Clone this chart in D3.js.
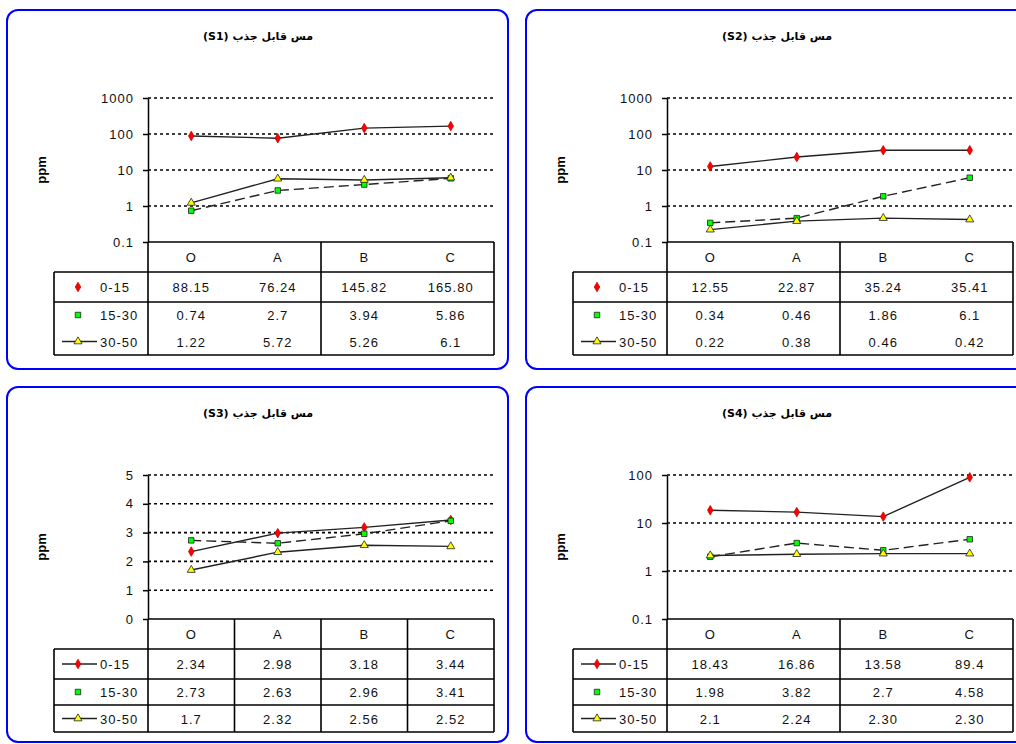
<!DOCTYPE html>
<html>
<head>
    <script src="https://cdn.jsdelivr.net/npm/d3@7/dist/d3.min.js"></script>
    <style>
        body {
            margin: 0;
            background-color: white;
        }

        svg text {
            font-family: "Liberation Sans", Arial, sans-serif;
        }

        .cell {
            font-size: 13px;
            letter-spacing: 1px;
            fill: #111;
        }

        .title {
            font-family: "DejaVu Sans", sans-serif !important;
            font-size: 11px;
            font-weight: bold;
        }

        .unit {
            font-size: 13px;
            font-weight: bold;
        }
    </style>
</head>
<body>
    <div id="chart"></div>
    <script>
        // data
        const categories = ['O', 'A', 'B', 'C']
        const depths = ['0-15', '15-30', '30-50']
        const titles = ['مس قابل جذب (S1)', 'مس قابل جذب (S2)', 'مس قابل جذب (S3)', 'مس قابل جذب (S4)']

        // table text, one row per depth
        const s1 = [['88.15', '76.24', '145.82', '165.80'], ['0.74', '2.7', '3.94', '5.86'], ['1.22', '5.72', '5.26', '6.1']]
        const s2 = [['12.55', '22.87', '35.24', '35.41'], ['0.34', '0.46', '1.86', '6.1'], ['0.22', '0.38', '0.46', '0.42']]
        const s3 = [['2.34', '2.98', '3.18', '3.44'], ['2.73', '2.63', '2.96', '3.41'], ['1.7', '2.32', '2.56', '2.52']]
        const s4 = [['18.43', '16.86', '13.58', '89.4'], ['1.98', '3.82', '2.7', '4.58'], ['2.1', '2.24', '2.30', '2.30']]

        const ticksS1 = [0.1, 1, 10, 100, 1000]
        const ticksS2 = [0.1, 1, 10, 100, 1000]
        const ticksS3 = [0, 1, 2, 3, 4, 5]
        const ticksS4 = [0.1, 1, 10, 100]

        const W = 1016, H = 744
        const colors = ['#ff0000', '#00ff00', '#ffff00']
        const symbols = [d3.symbolDiamond, d3.symbolSquare, d3.symbolTriangle]
        const symSize = [26, 30, 28]
        const dashes = [null, '10,5', null]

        // panel layout (relative to panel corner)
        const axisX = 141, plotR = 487, plotT = 88, plotB = 232
        const tableL = 47
        const rowEdges = [232, 262, 292, 318, 345]

        const panels = [
            { x: 7, y: 10, h: 359, data: s1, ticks: ticksS1, log: true, cols: [0, 2, 4], rows: [1], keyLine: [false, false, true] },
            { x: 526, y: 10, h: 359, data: s2, ticks: ticksS2, log: true, cols: [0, 2, 4], rows: [1], keyLine: [false, false, true] },
            { x: 7, y: 387, h: 355, data: s3, ticks: ticksS3, log: false, cols: [0, 1, 2, 3, 4], rows: [1, 2], keyLine: [true, false, true] },
            { x: 526, y: 387, h: 355, data: s4, ticks: ticksS4, log: true, cols: [0, 2, 4], rows: [1, 2], keyLine: [true, false, true] }
        ]

        const svg = d3.select('#chart').append('svg')
            .attr('width', W)
            .attr('height', H)

        panels.forEach((p, i) => {
            const g = svg.append('g').attr('transform', `translate(${p.x},${p.y})`)

            g.append('rect')
                .attr('x', 0).attr('y', 0)
                .attr('width', 501).attr('height', p.h)
                .attr('rx', 11).attr('ry', 11)
                .attr('fill', 'white')
                .attr('stroke', '#0000ff')
                .attr('stroke-width', 2)

            g.append('text')
                .attr('class', 'title')
                .attr('x', 251).attr('y', 30)
                .attr('text-anchor', 'middle')
                .attr('direction', 'rtl')
                .text(titles[i])

            g.append('text')
                .attr('class', 'unit')
                .attr('transform', `translate(39,${(plotT + plotB) / 2}) rotate(-90)`)
                .attr('text-anchor', 'middle')
                .text('ppm')

            const x = d3.scaleBand().domain(categories).range([axisX, plotR])
            const cx = c => x(c) + x.bandwidth() / 2
            const ext = d3.extent(p.ticks)
            const y = (p.log ? d3.scaleLog() : d3.scaleLinear()).domain(ext).range([plotB, plotT])

            // grid
            g.append('g').selectAll('line')
                .data(p.ticks.filter(t => t !== ext[0]))
                .join('line')
                .attr('x1', axisX).attr('x2', plotR)
                .attr('y1', d => y(d)).attr('y2', d => y(d))
                .attr('stroke', '#000')
                .attr('stroke-width', 1.6)
                .attr('stroke-dasharray', '3,3')

            // y axis
            const yAxis = g.append('g')
                .attr('transform', `translate(${axisX},0)`)
                .call(d3.axisLeft(y).tickValues(p.ticks).tickFormat(d => String(d)).tickSize(5).tickSizeOuter(0).tickPadding(9))
            yAxis.select('.domain').attr('stroke-width', 1.5)
            yAxis.selectAll('.tick line').attr('stroke-width', 1.5)
            yAxis.selectAll('.tick text')
                .attr('class', 'cell')
                .style('font-size', '13px')
                .style('font-family', '"Liberation Sans", Arial, sans-serif')

            // lines and markers
            const line = d3.line()
                .x((d, k) => cx(categories[k]))
                .y(d => y(+d))

            p.data.forEach((row, s) => {
                g.append('path')
                    .attr('d', line(row))
                    .attr('fill', 'none')
                    .attr('stroke', '#222')
                    .attr('stroke-width', 1.4)
                    .attr('stroke-dasharray', dashes[s])
            })
            p.data.forEach((row, s) => {
                g.append('g').selectAll('path')
                    .data(row)
                    .join('path')
                    .attr('transform', (d, k) => `translate(${cx(categories[k])},${y(+d)})`)
                    .attr('d', d3.symbol(symbols[s], symSize[s]))
                    .attr('fill', colors[s])
                    .attr('stroke', s === 0 ? '#cc0000' : '#222')
                    .attr('stroke-width', 0.8)
            })

            // data table
            const tbl = g.append('g')
            const hl = (x1, x2, yy) => tbl.append('line')
                .attr('x1', x1).attr('x2', x2).attr('y1', yy).attr('y2', yy)
                .attr('stroke', '#000').attr('stroke-width', 1.6)
            const vl = (xx, y1, y2) => tbl.append('line')
                .attr('x1', xx).attr('x2', xx).attr('y1', y1).attr('y2', y2)
                .attr('stroke', '#000').attr('stroke-width', 1.6)

            hl(axisX, plotR, rowEdges[0])
            hl(tableL, plotR, rowEdges[1])
            p.rows.forEach(r => hl(tableL, plotR, rowEdges[r + 1]))
            hl(tableL, plotR, rowEdges[4])
            vl(tableL, rowEdges[1], rowEdges[4])
            p.cols.forEach(c => vl(axisX + c * x.bandwidth(), rowEdges[0], rowEdges[4]))

            tbl.selectAll('.cat')
                .data(categories)
                .join('text')
                .attr('class', 'cell')
                .attr('x', d => cx(d))
                .attr('y', (rowEdges[0] + rowEdges[1]) / 2 + 5)
                .attr('text-anchor', 'middle')
                .text(d => d)

            p.data.forEach((row, s) => {
                const rowY = (rowEdges[s + 1] + rowEdges[s + 2]) / 2
                tbl.append('g').selectAll('text')
                    .data(row)
                    .join('text')
                    .attr('class', 'cell')
                    .attr('x', (d, k) => cx(categories[k]))
                    .attr('y', rowY + 5)
                    .attr('text-anchor', 'middle')
                    .text(d => d)

                // legend key
                if (p.keyLine[s]) {
                    tbl.append('line')
                        .attr('x1', 55).attr('x2', 90)
                        .attr('y1', rowY).attr('y2', rowY)
                        .attr('stroke', '#222').attr('stroke-width', 1.5)
                }
                tbl.append('path')
                    .attr('transform', `translate(71,${rowY})`)
                    .attr('d', d3.symbol(symbols[s], symSize[s]))
                    .attr('fill', colors[s])
                    .attr('stroke', s === 0 ? '#cc0000' : '#222')
                    .attr('stroke-width', 0.8)
                tbl.append('text')
                    .attr('class', 'cell')
                    .attr('x', 93)
                    .attr('y', rowY + 5)
                    .text(depths[s])
            })
        })
    </script>
</body>
</html>
